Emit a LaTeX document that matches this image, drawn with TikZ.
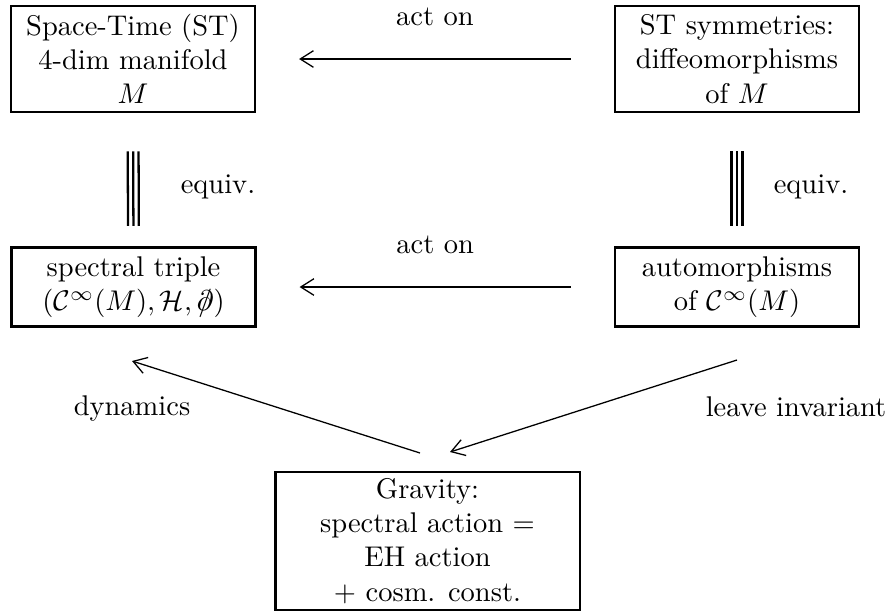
\documentclass[tikz,border=0pt]{standalone}
\usepackage{amsmath}
\usepackage{amssymb}
\usetikzlibrary{arrows.meta}
\newcommand{\dslash}{\ooalign{$\partial$\cr\hfil$/$\hfil\cr}}
\tikzstyle{frame box}=[
        draw,
        line width = 1pt,
        align = center,
        inner sep = 0pt,
        minimum width = 85.6pt
    ]
\tikzstyle{act arrow}=[
    line width = 0.9pt,
    -{Straight Barb[length=4.6pt,width=5.8pt,line width=0.45pt]},
    shorten <= 15pt,
    shorten >= 15pt
]
\tikzstyle{slant arrow}=[
    line width = 0.45pt,
    -{Straight Barb[length=4.6pt,width=5.8pt,line width=0.45pt]}
]
\tikzstyle{equiv line}=[
    line width = 0.8pt,
    shorten <= 13.3pt,
    shorten >= 7pt
]

\begin{document}
\begin{tikzpicture}[x=0.351pt, y=-0.351pt]
        \useasboundingbox (0,0) rectangle (891,614);

        \node[frame box, minimum height = 37.2pt] (st) at (133,59) {Space-Time (ST)\\4-dim manifold\\$M$};
        \node[frame box, minimum height = 37.2pt] (sym) at (737,59) {ST symmetries:\\diffeomorphisms\\of $M$};
        \node[frame box, minimum height = 28pt] (triple) at (133.5,287) {spectral triple\\$(\mathcal{C}^\infty(M),\mathcal{H},\dslash)$};
        \node[frame box, minimum height = 28pt] (aut) at (737,287) {automorphisms\\of $\mathcal{C}^\infty(M)$};
        \node[frame box, minimum width = 107pt, minimum height = 48.4pt] (grav) at (427.5,541) {Gravity:\\spectral action $=$\\EH action\\$+$ cosm. const.};

        \coordinate (dyn from) at (420,453);
        \coordinate (dyn to) at (132,361);
        \coordinate (inv from) at (737,360);
        \coordinate (inv to) at (450,452);

        \draw[act arrow] (sym) -- (st) node [midway, above = 8pt] {act on};
        \draw[act arrow] (aut) -- (triple) node [midway, above = 8pt] {act on};

        \foreach \dx in {-1.9,0,1.9} {
            \draw[equiv line] ([xshift=\dx pt]st.south) -- ([xshift=\dx pt]triple.north);
            \draw[equiv line] ([xshift=\dx pt]sym.south) -- ([xshift=\dx pt]aut.north);
        }
        \node (equiv left) at (218,187) {equiv.};
        \node (equiv right) at (811,187) {equiv.};

        \draw[slant arrow] (dyn from) -- (dyn to);
        \draw[slant arrow] (inv from) -- (inv to);
        \node[anchor = base] (dyn label) at (132,415) {dynamics};
        \node[anchor = base] (inv label) at (796,416) {leave invariant};

    \end{tikzpicture}
\end{document}
